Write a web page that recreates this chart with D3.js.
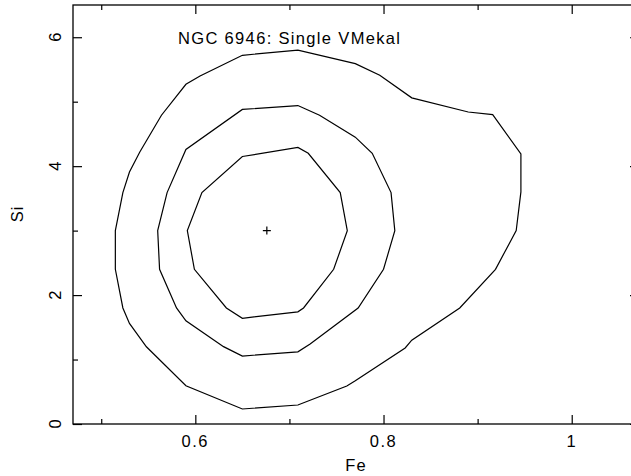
<!DOCTYPE html>
<html>
<head>
<meta charset="utf-8">
<title>NGC 6946 - Fe/Si contours</title>
<script src="https://cdn.jsdelivr.net/npm/d3@7"></script>
<style>
  body { margin: 0; background: #fff; }
  text { font-family: 'Liberation Sans', Arial, sans-serif; fill: #000; }
</style>
</head>
<body>
<svg id="svg" width="631" height="476"></svg>
<script>
// contour vertices, [Fe, Si]
var outerContour = [
  [0.650,5.72],[0.709,5.80],[0.770,5.59],[0.796,5.41],[0.830,5.06],[0.890,4.84],
  [0.916,4.80],[0.946,4.19],[0.946,3.60],[0.941,3.00],[0.919,2.40],[0.881,1.80],
  [0.830,1.30],[0.823,1.18],[0.770,0.67],[0.761,0.59],[0.709,0.295],[0.650,0.233],
  [0.590,0.594],[0.548,1.198],[0.530,1.561],[0.523,1.80],[0.515,2.40],[0.515,3.00],
  [0.523,3.59],[0.530,3.91],[0.541,4.22],[0.564,4.79],[0.590,5.27],[0.605,5.40]
];
var middleContour = [
  [0.650,4.88],[0.709,4.94],[0.732,4.79],[0.770,4.45],[0.788,4.20],[0.808,3.59],
  [0.812,3.00],[0.800,2.40],[0.773,1.80],[0.722,1.24],[0.709,1.12],[0.650,1.054],
  [0.630,1.20],[0.590,1.60],[0.580,1.80],[0.562,2.40],[0.560,3.00],[0.570,3.59],
  [0.590,4.26]
];
var innerContour = [
  [0.650,4.15],[0.709,4.29],[0.720,4.20],[0.754,3.59],[0.7615,3.00],[0.747,2.40],
  [0.715,1.80],[0.709,1.74],[0.650,1.64],[0.633,1.80],[0.599,2.40],[0.5915,3.00],
  [0.607,3.59]
];
var bestFit = [0.676, 3.0];

var feTicks = [0.6, 0.8, 1];
var feMinor = [0.5, 0.7, 0.9];
var siTicks = [0, 2, 4, 6];
var siMinor = [1, 3, 5];

var titleText = 'NGC 6946: Single VMekal';

// note: "top" is taken by window.top, so prefix these
var pLeft = 73, pRight = 639, pTop = 5, pBottom = 424;

var x = d3.scaleLinear().domain([0.47, 1.0715]).range([pLeft, pRight]);
var y = d3.scaleLinear().domain([0, 6.5]).range([pBottom, pTop]);

var svg = d3.select('#svg');

// frame
svg.append('rect')
  .attr('x', pLeft).attr('y', pTop)
  .attr('width', pRight - pLeft).attr('height', pBottom - pTop)
  .attr('fill', 'none').attr('stroke', '#000').attr('stroke-width', 1.3);

// inward ticks, all four sides
function ticks(axisFn, scale, vals, len, tx, ty) {
  svg.append('g')
    .attr('transform', 'translate(' + tx + ',' + ty + ')')
    .call(axisFn(scale).tickValues(vals).tickSize(len).tickFormat(''))
    .call(function(g){ g.select('.domain').remove(); })
    .selectAll('line').attr('stroke', '#000').attr('stroke-width', 1.2);
}
ticks(d3.axisBottom, x, feTicks, -9, 0, pBottom);
ticks(d3.axisBottom, x, feMinor, -5, 0, pBottom);
ticks(d3.axisTop, x, feTicks, -9, 0, pTop);
ticks(d3.axisTop, x, feMinor, -5, 0, pTop);
ticks(d3.axisLeft, y, siTicks, -9, pLeft, 0);
ticks(d3.axisLeft, y, siMinor, -5, pLeft, 0);
ticks(d3.axisRight, y, siTicks, -9, pRight, 0);
ticks(d3.axisRight, y, siMinor, -5, pRight, 0);

// tick labels
svg.selectAll('text.xl').data(feTicks).enter().append('text')
  .attr('class', 'xl')
  .attr('x', function(d){ return x(d); })
  .attr('y', 447)
  .attr('text-anchor', 'middle')
  .attr('font-size', 16.5)
  .attr('letter-spacing', 1.5)
  .text(function(d){ return d3.format('')(d); });

svg.selectAll('text.yl').data(siTicks).enter().append('text')
  .attr('class', 'yl')
  .attr('transform', function(d){ return 'translate(61,' + y(d) + ') rotate(-90)'; })
  .attr('text-anchor', 'middle')
  .attr('font-size', 16.5)
  .text(function(d){ return d; });

// axis titles
svg.append('text').attr('x', 356).attr('y', 470.5)
  .attr('text-anchor', 'middle').attr('font-size', 16.5)
  .attr('letter-spacing', 1).text('Fe');
svg.append('text').attr('transform', 'translate(23,214) rotate(-90)')
  .attr('text-anchor', 'middle').attr('font-size', 16.5)
  .attr('letter-spacing', 1).text('Si');

svg.append('text').attr('x', 178).attr('y', 43.5)
  .attr('font-size', 16.5)
  .attr('textLength', 222).attr('lengthAdjust', 'spacing')
  .text(titleText);

// contours
var line = d3.line()
  .x(function(d){ return x(d[0]); })
  .y(function(d){ return y(d[1]); })
  .curve(d3.curveLinearClosed);

svg.selectAll('path.contour')
  .data([outerContour, middleContour, innerContour])
  .enter().append('path')
  .attr('class', 'contour')
  .attr('d', line)
  .attr('fill', 'none')
  .attr('stroke', '#000')
  .attr('stroke-width', 1.2)
  .attr('stroke-linejoin', 'miter');

// best fit marker
var cx = x(bestFit[0]), cy = y(bestFit[1]);
svg.append('path')
  .attr('d', 'M' + (cx - 4) + ',' + cy + 'H' + (cx + 4) + 'M' + cx + ',' + (cy - 4) + 'V' + (cy + 4))
  .attr('stroke', '#000').attr('stroke-width', 1.2);
</script>
</body>
</html>
